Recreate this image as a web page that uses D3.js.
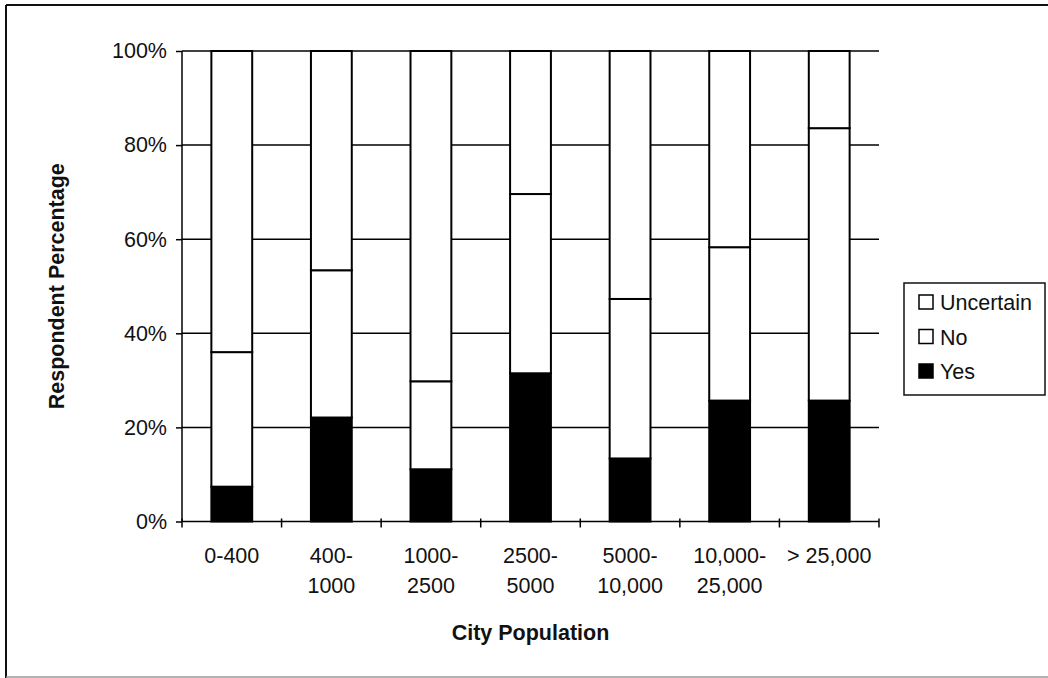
<!DOCTYPE html>
<html>
<head>
<meta charset="utf-8">
<script src="https://cdn.jsdelivr.net/npm/d3@7"></script>
<style>
  html, body { margin: 0; padding: 0; background: #fff; }
  svg { display: block; font-family: "Liberation Sans", Arial, sans-serif; }
</style>
</head>
<body>
<svg id="chart" width="1048" height="678"></svg>
<script>
// Survey responses by city population (percent of respondents)
const categories = [["0-400"], ["400-", "1000"], ["1000-", "2500"], ["2500-", "5000"],
                    ["5000-", "10,000"], ["10,000-", "25,000"], ["> 25,000"]];
const yesValues = [7.4, 22.1, 11.1, 31.5, 13.4, 25.7, 25.7];
const noValues = [28.6, 31.3, 18.7, 38.1, 33.9, 32.6, 57.9];
const uncertainValues = yesValues.map((y, i) => +(100 - y - noValues[i]).toFixed(1));
const yTicks = [0, 20, 40, 60, 80, 100];
const seriesNames = ["Yes", "No", "Uncertain"];
const seriesFill = { Yes: "#000", No: "#fff", Uncertain: "#fff" };

const rows = categories.map((c, i) => ({
  key: c.join(" "), lines: c,
  Yes: yesValues[i], No: noValues[i], Uncertain: uncertainValues[i]
}));

const svg = d3.select("#chart");
const margin = { left: 182, right: 169, top: 51, bottom: 156.5 };
const W = 1048, H = 678;
const plotW = W - margin.left - margin.right;
const plotH = H - margin.top - margin.bottom;

// outer frame
svg.append("line").attr("x1", 6).attr("x2", 1048).attr("y1", 5).attr("y2", 5)
  .attr("stroke", "#111").attr("stroke-width", 2);
svg.append("line").attr("x1", 6).attr("x2", 6).attr("y1", 5).attr("y2", 678)
  .attr("stroke", "#111").attr("stroke-width", 2);
svg.append("line").attr("x1", 6).attr("x2", 1048).attr("y1", 677).attr("y2", 677)
  .attr("stroke", "#999").attr("stroke-width", 1.5);

const g = svg.append("g").attr("transform", `translate(${margin.left},${margin.top})`);

const x = d3.scaleBand().domain(rows.map(r => r.key)).range([0, plotW]).padding(0);
const y = d3.scaleLinear().domain([0, 100]).range([plotH, 0]);
const barW = x.bandwidth() * 0.41;

// horizontal gridlines
g.append("g").selectAll("line").data(yTicks.filter(t => t > 0)).join("line")
  .attr("x1", 0).attr("x2", plotW)
  .attr("y1", d => y(d)).attr("y2", d => y(d))
  .attr("stroke", "#000").attr("stroke-width", 1.5);

// stacked bars
const stack = d3.stack().keys(seriesNames)(rows);
g.append("g").selectAll("g").data(stack).join("g")
  .attr("fill", d => seriesFill[d.key])
  .selectAll("rect").data(d => d).join("rect")
  .attr("x", d => x(d.data.key) + (x.bandwidth() - barW) / 2)
  .attr("width", barW)
  .attr("y", d => y(d[1]))
  .attr("height", d => y(d[0]) - y(d[1]))
  .attr("stroke", "#000").attr("stroke-width", 2);

// y axis
const yAxis = g.append("g").call(
  d3.axisLeft(y).tickValues(yTicks).tickFormat(d => d + "%").tickSize(6).tickPadding(9)
);
yAxis.select(".domain").attr("stroke", "#000").attr("stroke-width", 1.5).attr("d", `M0,${plotH}V0`);
yAxis.selectAll(".tick line").attr("stroke", "#000").attr("stroke-width", 1.5);
yAxis.selectAll("text").attr("font-size", 21.5).attr("fill", "#111")
  .attr("font-family", "'Liberation Sans', Arial, sans-serif");

// x axis: baseline, boundary ticks and two-line labels
const xAxis = g.append("g").attr("transform", `translate(0,${plotH})`);
xAxis.append("line").attr("x1", 0).attr("x2", plotW).attr("stroke", "#000").attr("stroke-width", 1.5);
const bounds = rows.map(r => x(r.key)).concat([plotW]);
xAxis.selectAll("line.tick").data(bounds).join("line").attr("class", "tick")
  .attr("x1", d => d).attr("x2", d => d).attr("y1", -3).attr("y2", 6)
  .attr("stroke", "#000").attr("stroke-width", 1.5);
const labels = xAxis.selectAll("text.lbl").data(rows).join("text").attr("class", "lbl")
  .attr("text-anchor", "middle").attr("font-size", 21.5).attr("fill", "#111")
  .attr("transform", d => `translate(${x(d.key) + x.bandwidth() / 2},0)`);
labels.selectAll("tspan").data(d => d.lines).join("tspan")
  .attr("x", 0).attr("y", (d, i) => 41.5 + i * 30).text(d => d);

// axis titles
svg.append("text").attr("x", margin.left + plotW / 2).attr("y", 640)
  .attr("text-anchor", "middle").attr("font-size", 21.5).attr("font-weight", "bold")
  .attr("fill", "#111").text("City Population");
svg.append("text").attr("transform", `translate(64,${margin.top + plotH / 2}) rotate(-90)`)
  .attr("text-anchor", "middle").attr("font-size", 21.5).attr("font-weight", "bold")
  .attr("fill", "#111").text("Respondent Percentage");

// legend
const legend = svg.append("g");
legend.append("rect").attr("x", 904).attr("y", 283).attr("width", 141).attr("height", 112)
  .attr("fill", "#fff").attr("stroke", "#111").attr("stroke-width", 1.5);
const legendItems = ["Uncertain", "No", "Yes"];
const li = legend.selectAll("g.item").data(legendItems).join("g").attr("class", "item")
  .attr("transform", (d, i) => `translate(919,${302 + i * 34.5})`);
li.append("rect").attr("x", 0).attr("y", -7).attr("width", 14).attr("height", 14)
  .attr("fill", d => seriesFill[d]).attr("stroke", "#000").attr("stroke-width", 1.5);
li.append("text").attr("x", 21).attr("y", 8).attr("font-size", 21.5).attr("fill", "#111")
  .text(d => d);
</script>
</body>
</html>
